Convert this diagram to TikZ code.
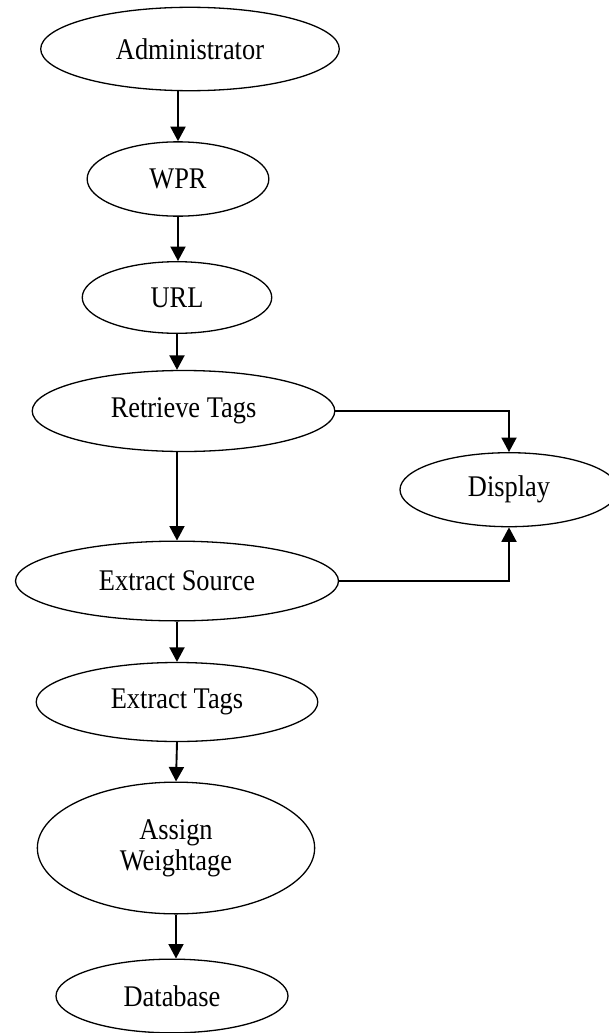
\documentclass[tikz,border=0pt]{standalone}
\usepackage{fontspec}
\setmainfont{Liberation Serif}[FakeStretch=0.88]
\usetikzlibrary{arrows.meta,shapes.geometric}
\tikzset{
  oval/.style={draw, ellipse, line width=1.3pt, inner sep=0pt, align=center,
    font=\fontsize{30}{31.3}\selectfont},
  arr/.style={line width=1.9pt, -{Triangle[length=14.5pt,width=15pt]}}
}
\begin{document}
\begin{tikzpicture}[x=1pt,y=-1pt]
\useasboundingbox (0,0) rectangle (609,1033);
\node[oval, minimum width=298.6pt, minimum height=83.4pt] (adm) at (190,49) {Administrator};
\node[oval, minimum width=181.7pt, minimum height=74.3pt] (wpr) at (178,179) {WPR};
\node[oval, minimum width=189.5pt, minimum height=71.6pt] (url) at (177,297.5) {URL};
\node[oval, minimum width=302.6pt, minimum height=81pt] (rt) at (183.5,411) {Retrieve Tags};
\node[oval, minimum width=218pt, minimum height=74pt] (disp) at (509,489.7) {Display};
\node[oval, minimum width=323pt, minimum height=79.7pt] (es) at (177,581) {Extract Source};
\node[oval, minimum width=281.6pt, minimum height=79pt] (et) at (177,702) {Extract Tags};
\node[oval, minimum width=277.3pt, minimum height=131.7pt] (aw) at (176,848) {Assign\\Weightage};
\node[oval, minimum width=232pt, minimum height=73.7pt] (db) at (172,996) {Database};

\draw[arr] (adm.south -| wpr.north) -- (wpr.north);
\draw[arr] (wpr.south) -- (wpr.south |- url.north);
\draw[arr] (url.south) -- (url.south |- rt.north);
\draw[arr] (rt.south -| es.north) -- (es.north);
\draw[arr] (es.south) -- (es.south |- et.north);
\draw[arr] (et.south) -- (aw.north);
\draw[arr] (aw.south) -- (aw.south |- db.north);
\draw[arr] (rt.east) -| (disp.north);
\draw[arr] (es.east) -| (disp.south);
\end{tikzpicture}
\end{document}
